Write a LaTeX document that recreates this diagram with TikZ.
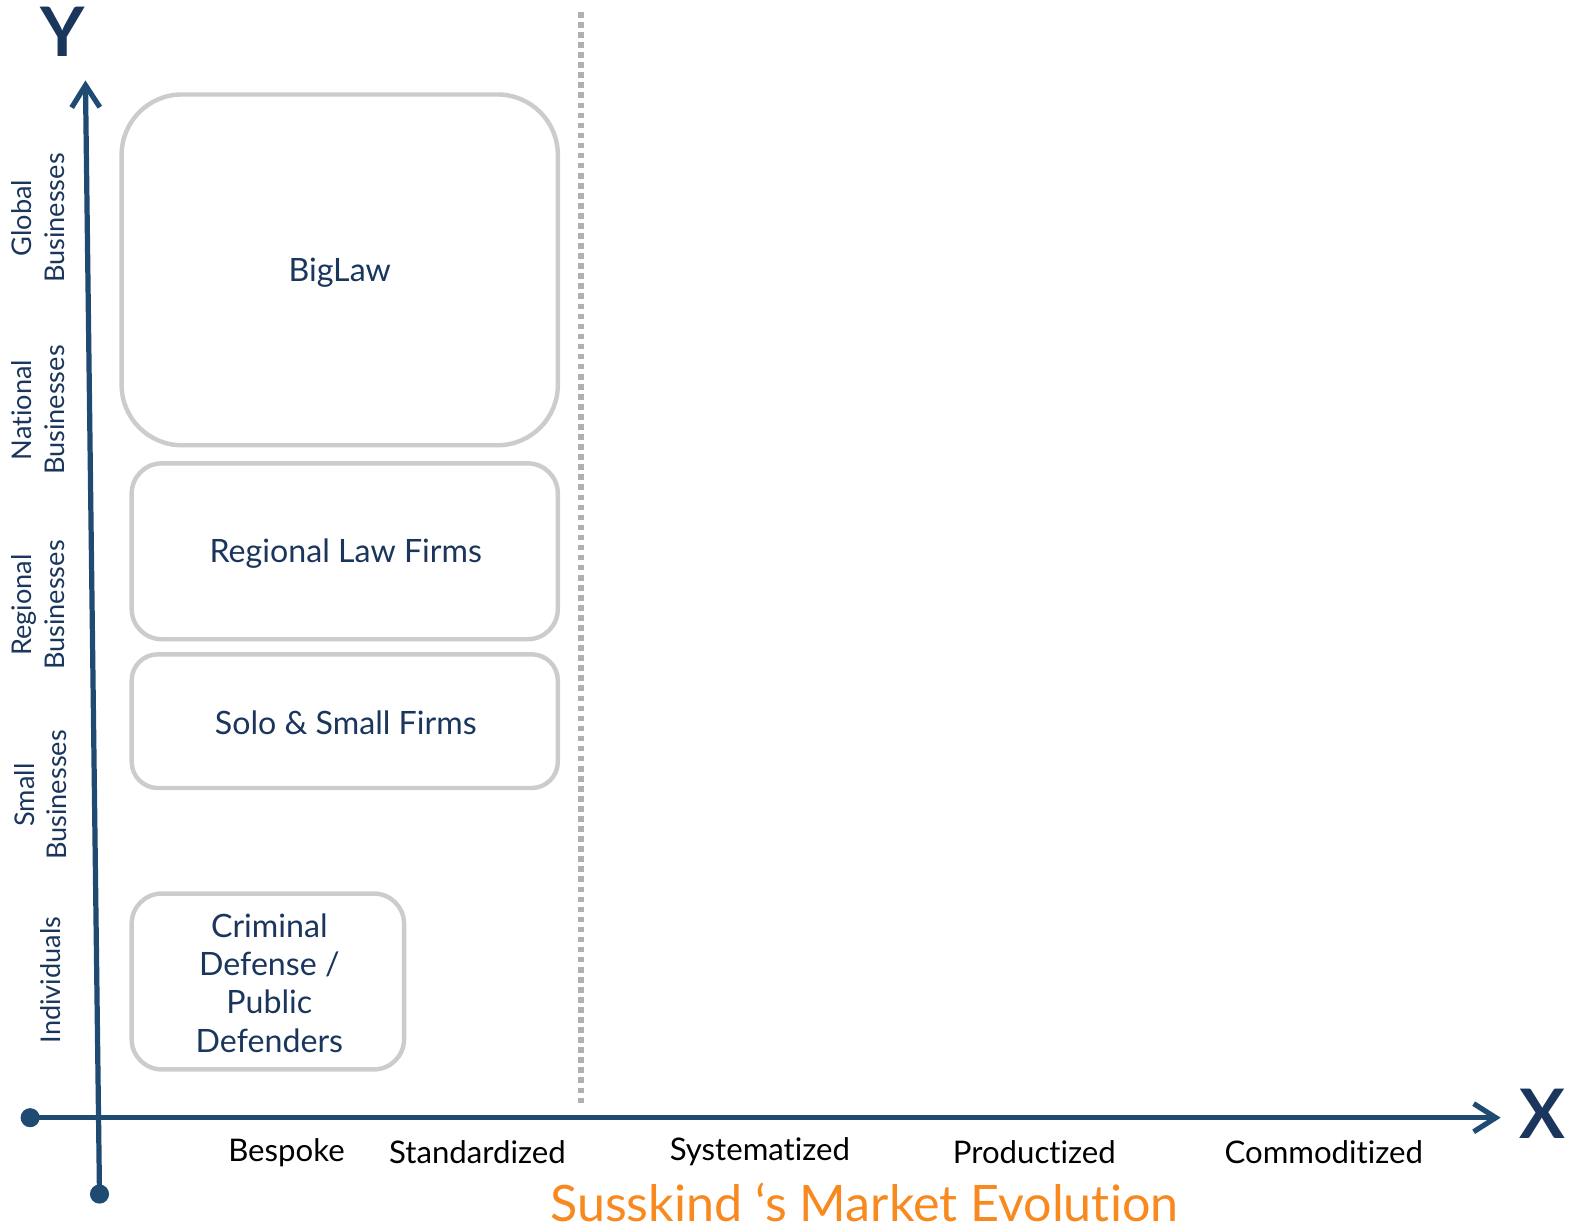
\documentclass[tikz,border=0pt]{standalone}
\usepackage{fontspec}
\setmainfont{Lato}[Ligatures=NoCommon]
\usetikzlibrary{arrows.meta}
\definecolor{axisblue}{HTML}{1F4B73}
\definecolor{navy}{HTML}{1B365D}
\definecolor{boxgray}{HTML}{CCCCCC}
\definecolor{dotgray}{HTML}{B0B0B0}
\definecolor{orangetxt}{HTML}{F7891F}
\tikzset{
  axis/.style={draw=axisblue, line width=2.6pt},
  enddot/.style={circle, fill=axisblue, inner sep=0pt, minimum size=9.5pt},
  segbox/.style={draw=boxgray, line width=2.2pt, fill=white},
  boxtext/.style={text=navy, font=\fontsize{16}{19}\selectfont, align=center},
  ylab/.style={text=navy, font=\fontsize{13.5}{16}\selectfont, align=center, rotate=90},
  xlab/.style={text=black, font=\fontsize{15.5}{18}\selectfont},
  axletter/.style={text=navy, font=\fontsize{34}{36}\selectfont\bfseries},
}
\begin{document}
\begin{tikzpicture}[x=0.5pt, y=-0.5pt]
\useasboundingbox (0,0) rectangle (1568,1224);
% dotted separator
\coordinate (dtop) at (578,12);
\coordinate (dbot) at (578,1098);
\draw[draw=dotgray, line width=3.4pt, dash pattern=on 2.8pt off 2.2pt] (dtop) -- (dbot);
% boxes
\draw[segbox, rounded corners=30pt] (121,94) rectangle (555,443);
\draw[segbox, rounded corners=15pt] (131,461) rectangle (555,636);
\draw[segbox, rounded corners=13pt] (131,651) rectangle (555,784);
\draw[segbox, rounded corners=15pt] (131,889) rectangle (402,1064);
\node[boxtext] (big) at (338,271) {BigLaw};
\node[boxtext] (reg) at (344,551) {Regional Law Firms};
\node[boxtext] (solo) at (344,719) {Solo \& Small Firms};
\node[boxtext] (crim) at (268,978) {Criminal\\Defense /\\Public\\Defenders};
% axes
\node[enddot] (ystart) at (99,1188) {};
\coordinate (ytip) at (85,80);
\node[enddot] (xstart) at (30,1112) {};
\coordinate (xtip) at (1493,1112);
\draw[axis, -{Straight Barb[length=11pt, width=14pt, line width=2.6pt]}] (ystart.center) -- (ytip);
\draw[axis, -{Straight Barb[length=11pt, width=14pt, line width=2.6pt]}] (xstart.center) -- (xtip);
\node[axletter] (ylet) at (62,32) {Y};
\node[axletter] (xlet) at (1535,1108) {X};
% y labels
\node[ylab] (l1) at (38,217) {Global\\Businesses};
\node[ylab] (l2) at (38,408) {National\\Businesses};
\node[ylab] (l3) at (38,602) {Regional\\Businesses};
\node[ylab] (l4) at (40,791) {Small\\Businesses};
\node[ylab] (l5) at (50,975) {Individuals};
% x labels
\node[xlab] (x1) at (285,1147) {Bespoke};
\node[xlab] (x2) at (475,1146) {Standardized};
\node[xlab] (x3) at (756,1146) {Systematized};
\node[xlab] (x4) at (1029,1146) {Productized};
\node[xlab] (x5) at (1317,1146) {Commoditized};
\node[text=orangetxt, inner sep=0pt, font=\fontsize{25}{28}\selectfont] (title) at (860,1196) {Susskind ‘s Market Evolution};
\end{tikzpicture}
\end{document}
